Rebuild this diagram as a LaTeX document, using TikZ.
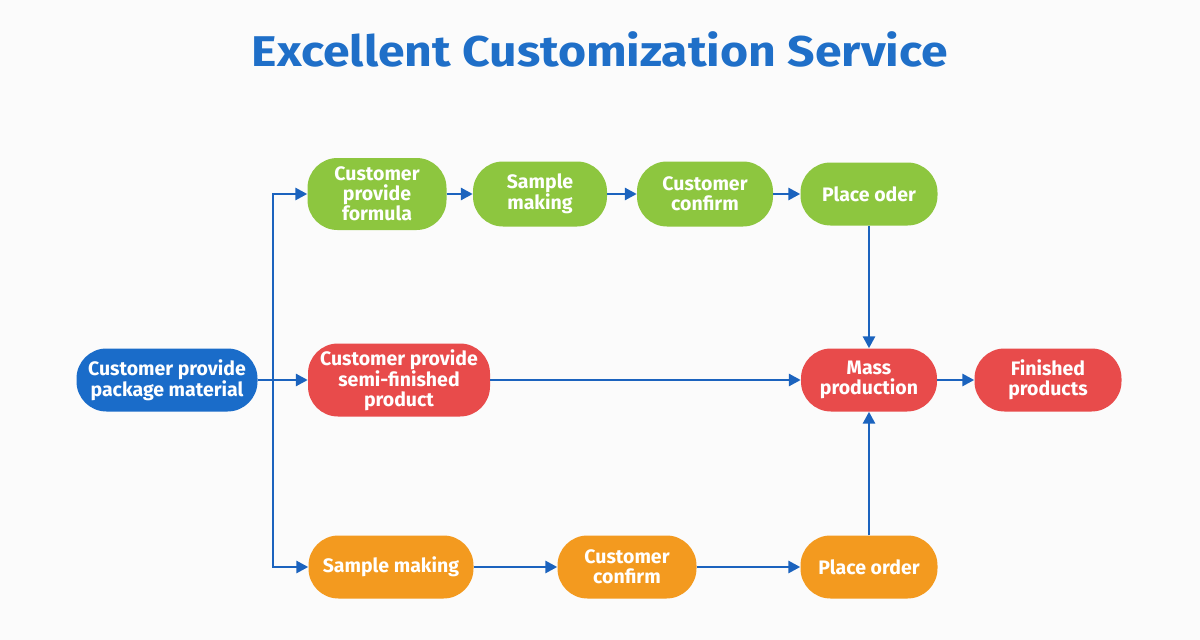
\documentclass[tikz,border=0pt]{standalone}
\usepackage{fontspec}
\setmainfont{Fira Sans}
\usetikzlibrary{arrows.meta}
\definecolor{bg}{HTML}{FBFBFB}
\definecolor{tblue}{HTML}{1F6FC8}
\definecolor{bblue}{HTML}{1A6CC9}
\definecolor{lgreen}{HTML}{8DC63F}
\definecolor{lred}{HTML}{E84B4B}
\definecolor{lorange}{HTML}{F39A1F}
\definecolor{arr}{HTML}{1B63BE}
\begin{document}
\begin{tikzpicture}[x=1pt,y=-1pt,
  box/.style={rounded corners=30pt, minimum height=63pt, text=white,
    font=\bfseries\fontsize{19.5}{20}\selectfont, align=center, inner sep=0pt},
  flow/.style={draw=arr, line width=2.8pt, line join=miter, -{Triangle[length=12pt,width=12pt]}}]
\fill[bg] (0,0) rectangle (1200,640);
\useasboundingbox (0,0) rectangle (1200,640);
\node[font=\bfseries\fontsize{43}{48}\selectfont, text=tblue] (title) at (600,49) {\scalebox{1.12}[1]{Excellent Customization Service}};
\node[box, fill=bblue, minimum width=181pt] (pkg) at (167,380) {Customer provide\\package material};
\node[box, fill=lgreen, minimum width=139pt, minimum height=72pt] (g1) at (377,194) {Customer\\provide\\formula};
\node[box, fill=lgreen, minimum width=134pt, minimum height=65pt] (g2) at (540,194) {Sample\\making};
\node[box, fill=lgreen, minimum width=136pt, minimum height=65pt] (g3) at (705,194) {Customer\\confirm};
\node[box, fill=lgreen, minimum width=137pt, minimum height=63pt] (g4) at (869,194) {Place oder};
\node[box, fill=lred, minimum width=182pt, minimum height=73pt] (r1) at (399,380) {Customer provide\\semi-finished\\product};
\node[box, fill=lred, minimum width=136pt] (r2) at (869,380) {Mass\\production};
\node[box, fill=lred, minimum width=147pt] (r3) at (1048,380) {Finished\\products};
\node[box, fill=lorange, minimum width=165pt] (o1) at (391,567) {Sample making};
\node[box, fill=lorange, minimum width=139pt] (o2) at (627,567) {Customer\\confirm};
\node[box, fill=lorange, minimum width=137pt] (o3) at (869,567) {Place order};
\coordinate (j) at (273,380);
\draw[flow] (pkg.east) -- (j) -- (r1.west);
\draw[flow] (j) |- (g1.west);
\draw[flow] (j) |- (o1.west);
\draw[flow] (g1) -- (g2);
\draw[flow] (g2) -- (g3);
\draw[flow] (g3) -- (g4);
\draw[flow] (g4) -- (r2);
\draw[flow] (r1) -- (r2);
\draw[flow] (r2) -- (r3);
\draw[flow] (o1) -- (o2);
\draw[flow] (o2) -- (o3);
\draw[flow] (o3) -- (r2);
\end{tikzpicture}
\end{document}
